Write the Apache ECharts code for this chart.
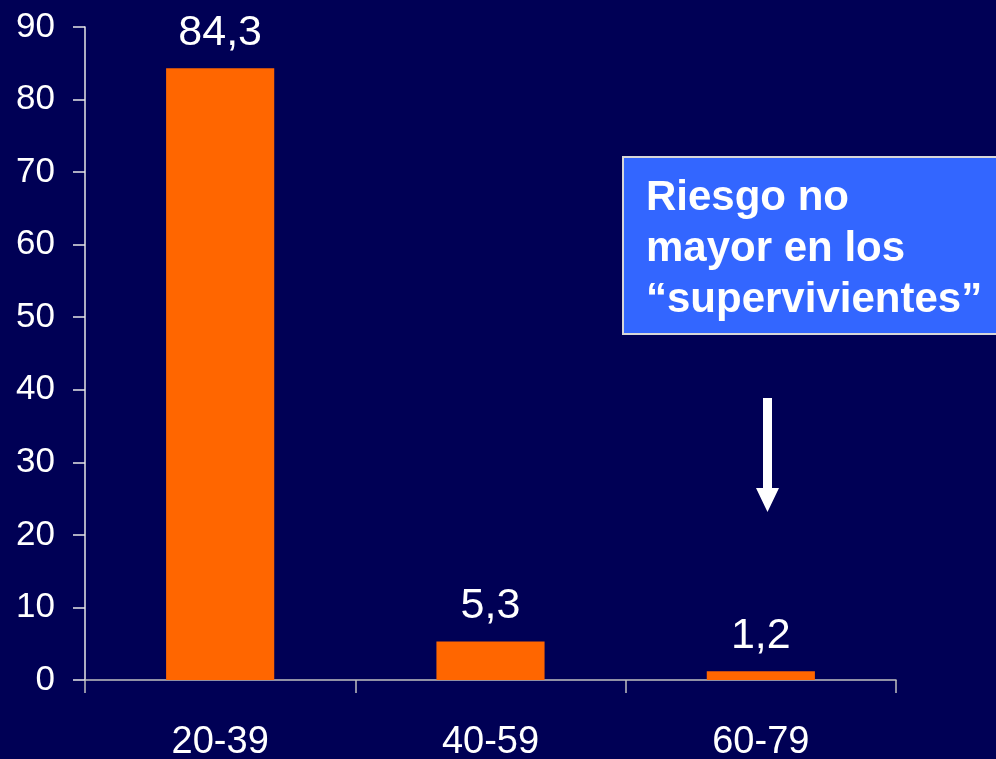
<!DOCTYPE html>
<html>
<head>
<meta charset="utf-8">
<script src="https://cdn.jsdelivr.net/npm/echarts@6/dist/echarts.min.js"></script>
<style>
  html, body { margin: 0; padding: 0; background: #000055; }
  #chart { width: 996px; height: 759px; }
</style>
</head>
<body>
<div id="chart"></div>
<script>
// Age groups and their risk values
const categories = ['20-39', '40-59', '60-79'];
const values = [84.3, 5.3, 1.2];
const yTicks = { min: 0, max: 90, interval: 10 };
const noteLines = ['Riesgo no', 'mayor en los', '\u201csupervivientes\u201d'];

const FONT = '"Liberation Sans", Arial, sans-serif';

const chart = echarts.init(document.getElementById('chart'), null, { renderer: 'canvas' });

chart.setOption({
  backgroundColor: '#000055',
  animation: false,
  grid: { left: 85, right: 100, top: 27, bottom: 79, containLabel: false, outerBoundsMode: 'none' },
  xAxis: {
    type: 'category',
    data: categories,
    axisLine: { show: true, lineStyle: { color: '#c0c0c0', width: 1.5 } },
    axisTick: { show: true, length: 13, lineStyle: { color: '#c0c0c0', width: 1.5 } },
    axisLabel: { color: '#ffffff', fontSize: 38, fontFamily: FONT, margin: 44 },
    splitLine: { show: false }
  },
  yAxis: {
    type: 'value',
    min: yTicks.min,
    max: yTicks.max,
    interval: yTicks.interval,
    axisLine: { show: true, lineStyle: { color: '#e6e6e6', width: 1.5 } },
    axisTick: { show: true, length: 12, lineStyle: { color: '#e6e6e6', width: 1.5 } },
    axisLabel: { color: '#ffffff', fontSize: 35, fontFamily: FONT, margin: 30 },
    splitLine: { show: false }
  },
  series: [{
    type: 'bar',
    data: values,
    barWidth: '40%',
    itemStyle: { color: '#FF6600' },
    label: {
      show: true,
      position: 'top',
      distance: 14,
      color: '#ffffff',
      fontSize: 43,
      fontFamily: FONT,
      formatter: p => String(p.value).replace('.', ',')
    }
  }],
  graphic: [
    {
      type: 'rect',
      shape: { x: 623, y: 157, width: 390, height: 177 },
      style: { fill: '#3366FF', stroke: '#d8d8d8', lineWidth: 2 }
    },
    {
      type: 'text',
      x: 646,
      y: 173,
      style: {
        text: noteLines.join('\n'),
        font: 'bold 42px ' + FONT,
        fill: '#ffffff',
        lineHeight: 51,
        textVerticalAlign: 'top'
      }
    },
    {
      // downward arrow pointing at the last group
      type: 'polygon',
      shape: {
        points: [
          [763, 398], [772, 398], [772, 488], [779, 488],
          [767.5, 512], [756, 488], [763, 488]
        ]
      },
      style: { fill: '#ffffff' }
    }
  ]
});
</script>
</body>
</html>
